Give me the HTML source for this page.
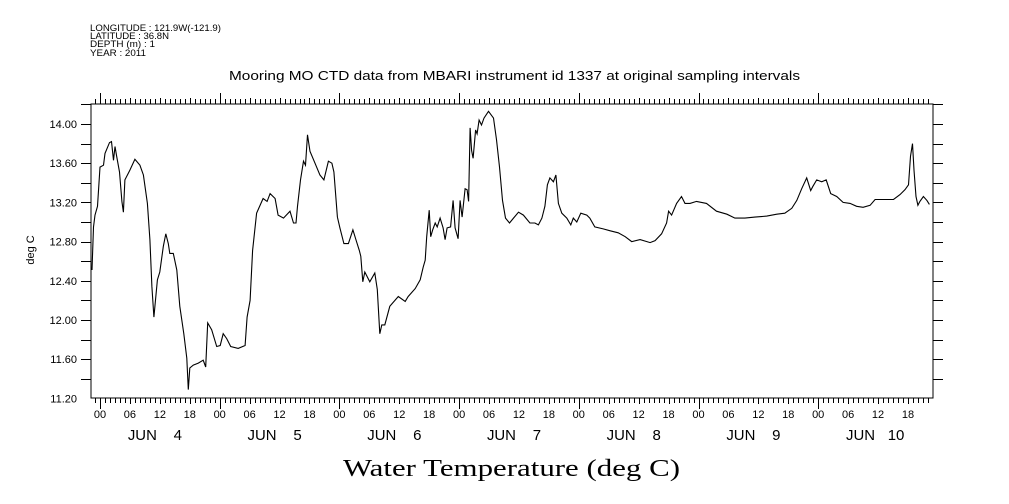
<!DOCTYPE html>
<html><head><meta charset="utf-8"><style>
html,body{margin:0;padding:0;background:#fff;}
svg{display:block;font-family:"Liberation Sans",sans-serif;}
</style></head><body>
<svg id="chart" width="1009" height="504" viewBox="0 0 1009 504">
<g font-size="9" fill="#000">
<text x="90" y="31" textLength="131" lengthAdjust="spacingAndGlyphs">LONGITUDE : 121.9W(-121.9)</text>
<text x="90" y="39" textLength="79" lengthAdjust="spacingAndGlyphs">LATITUDE : 36.8N</text>
<text x="90" y="47" textLength="65" lengthAdjust="spacingAndGlyphs">DEPTH (m) : 1</text>
<text x="90" y="56" textLength="56" lengthAdjust="spacingAndGlyphs">YEAR : 2011</text>
</g>
<text x="229" y="80" textLength="571" lengthAdjust="spacingAndGlyphs" font-size="13">Mooring MO CTD data from MBARI instrument id 1337 at original sampling intervals</text>
<text transform="translate(34,250) rotate(-90)" text-anchor="middle" font-size="11">deg C</text>
<text x="343" y="476" textLength="337" lengthAdjust="spacingAndGlyphs" font-size="24" font-family="Liberation Serif, serif">Water Temperature (deg C)</text>
<rect x="91" y="104" width="842" height="294" fill="none" stroke="#000" stroke-width="1"/>
<g id="axes"></g>
<g id="series"></g>
</svg>
<script>
const hours=[-1.6,-1.3,-1.0,-0.5,0,0.7,1.0,1.9,2.3,2.7,3.0,3.3,3.9,4.4,4.7,5.0,6.0,7.0,8.0,8.7,9.5,10.0,10.4,10.8,11.5,12.0,12.7,13.2,13.7,14.0,14.7,15.4,16.0,16.8,17.4,17.7,18.0,18.7,19.7,20.7,21.2,21.6,22.4,23.4,24.1,24.7,25.4,26.2,27.7,29.1,29.5,30.1,30.6,31.4,32.7,33.5,34.1,35.1,35.7,36.8,38.1,38.8,39.3,39.6,40.2,40.8,41.2,41.6,42.1,43.1,44.1,44.9,45.8,46.5,46.9,47.6,48.1,48.9,49.8,50.7,51.3,52.0,52.3,52.7,53.1,54.1,55.1,55.6,56.1,56.5,57.1,58.1,59.8,61.2,61.8,63.2,64.2,64.8,65.2,65.5,66.0,66.3,66.7,67.2,67.6,68.2,68.8,69.2,69.6,70.3,70.8,71.2,71.8,72.2,72.6,73.2,73.6,73.9,74.2,74.5,74.8,75.3,75.6,76.0,76.5,77.0,77.9,78.9,79.5,80.1,80.7,81.3,82.1,82.9,83.9,84.9,86.2,87.2,87.9,88.6,89.2,89.7,90.2,90.9,91.4,91.9,92.6,93.6,94.4,94.9,95.6,96.4,97.6,98.2,99.2,100.9,102.3,103.9,105.3,106.6,108.3,110.3,111.3,112.6,113.6,114.0,114.6,115.6,116.6,117.3,118.3,119.6,121.6,123.6,125.7,127.3,129.3,131.3,133.7,135.7,137.3,138.7,139.7,140.7,141.7,142.5,142.9,143.7,144.7,145.6,146.5,147.7,149.0,150.4,151.7,153.0,154.4,155.4,157.1,159.1,160.4,161.4,162.1,162.5,162.9,163.2,163.6,164.0,164.4,165.1,165.8,166.3];
const temps=[12.51,12.95,13.07,13.16,13.56,13.58,13.70,13.81,13.82,13.63,13.77,13.68,13.51,13.21,13.10,13.43,13.53,13.64,13.58,13.48,13.19,12.82,12.34,12.03,12.41,12.49,12.75,12.88,12.78,12.68,12.68,12.51,12.14,11.86,11.61,11.29,11.51,11.54,11.56,11.59,11.52,11.97,11.90,11.73,11.74,11.86,11.81,11.73,11.71,11.74,12.03,12.20,12.71,13.09,13.24,13.21,13.29,13.24,13.07,13.04,13.11,12.99,12.99,13.16,13.43,13.62,13.58,13.89,13.72,13.60,13.48,13.43,13.62,13.60,13.51,13.05,12.94,12.78,12.78,12.92,12.82,12.71,12.65,12.39,12.49,12.39,12.48,12.31,11.86,11.95,11.95,12.14,12.24,12.19,12.24,12.32,12.41,12.54,12.61,12.85,13.12,12.85,12.92,12.99,12.95,13.04,12.94,12.82,12.94,12.95,13.22,12.94,12.83,13.22,13.05,13.34,13.33,13.21,13.96,13.73,13.65,13.94,13.90,14.04,13.99,14.06,14.13,14.06,13.84,13.56,13.22,13.04,12.99,13.04,13.10,13.07,12.99,12.99,12.97,13.04,13.16,13.38,13.45,13.41,13.48,13.19,13.09,13.04,12.97,13.04,13.00,13.09,13.07,13.04,12.95,12.93,12.91,12.89,12.85,12.80,12.82,12.79,12.81,12.88,12.99,13.11,13.07,13.19,13.26,13.19,13.19,13.21,13.19,13.11,13.08,13.04,13.04,13.05,13.06,13.08,13.09,13.14,13.22,13.34,13.45,13.32,13.36,13.43,13.41,13.43,13.29,13.26,13.20,13.19,13.16,13.15,13.17,13.23,13.23,13.23,13.28,13.33,13.38,13.67,13.80,13.53,13.26,13.17,13.21,13.26,13.22,13.18];
const yTickValues=[11.2,11.6,12.0,12.4,12.8,13.2,13.6,14.0];
const yTickLabels=["11.20","11.60","12.00","12.40","12.80","13.20","13.60","14.00"];
const hourLabels=["00","06","12","18"];
const dayNames=["JUN","JUN","JUN","JUN","JUN","JUN","JUN"];
const dayNums=["4","5","6","7","8","9","10"];

const X0=100,PXH=119.7/24,LEFT=91,RIGHT=933,TOP=104,BOT=398;
function xs(h){return X0+h*PXH;}
function ys(v){return 124+(14-v)*98;}
const NS="http://www.w3.org/2000/svg";
const axes=document.getElementById('axes');
function mk(tag,attrs,parent){const e=document.createElementNS(NS,tag);for(const k in attrs)e.setAttribute(k,attrs[k]);parent.appendChild(e);return e;}
let d="";
for(let i=0;i<=15;i++){const v=11.2+i*0.2;const y=Math.round(ys(v))+0.5;if(y<TOP||y>BOT)continue;
 d+=`M${LEFT-10},${y}H${LEFT}M${RIGHT},${y}H${RIGHT+10}`;}
for(let h=-1;h<=166;h++){const x=Math.round(xs(h))+0.5;if(x<LEFT||x>RIGHT)continue;
 const len=(h%24===0)?11:(h%6===0?6:5);
 d+=`M${x},${BOT}v${len}M${x},${TOP}v${-len}`;}
const tp=mk('path',{d:d,stroke:'#000','stroke-width':1,fill:'none'},axes);


yTickValues.forEach((v,i)=>{const t=mk('text',{x:77,y:ys(v)+4,'text-anchor':'end','font-size':11},axes);t.textContent=yTickLabels[i];
 
 });
for(let day=0;day<7;day++){
 for(let k=0;k<4;k++){const h=day*24+k*6;const t=mk('text',{x:xs(h),y:418,'text-anchor':'middle','font-size':11},axes);t.textContent=hourLabels[k];
  
  }
 const cx=xs(day*24+12);
 const t1=mk('text',{x:cx-32,y:440,'font-size':15,textLength:29,lengthAdjust:'spacingAndGlyphs'},axes);t1.textContent=dayNames[day];
 
 
 const t2=mk('text',{x:cx+18,y:440,'text-anchor':'middle','font-size':15},axes);t2.textContent=dayNums[day];
 
 
}
const pts=hours.map((h,i)=>xs(h).toFixed(1)+','+ys(temps[i]).toFixed(1)).join(' ');
const line=mk('polyline',{points:pts,fill:'none',stroke:'#000','stroke-width':1.1},document.getElementById('series'));


</script>
</body></html>
